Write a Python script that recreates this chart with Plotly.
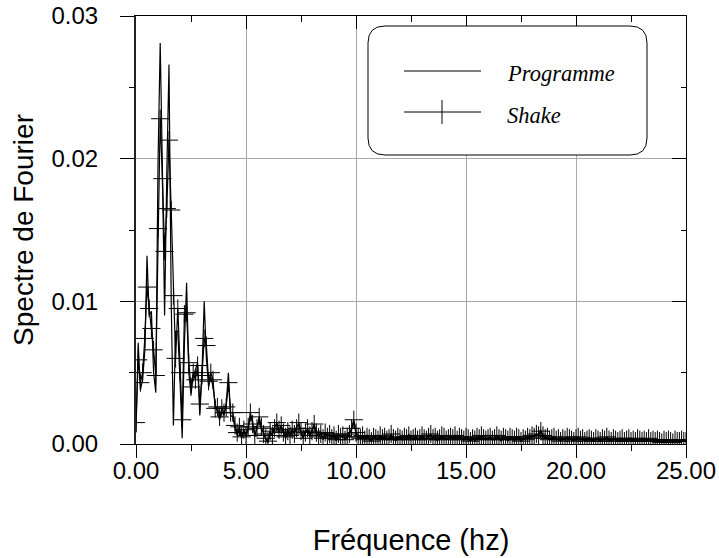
import plotly.graph_objects as go

# Fourier spectrum values, frequency step 0.1 Hz (0 .. 25 Hz)
programme = [
    0.0008, 0.0071, 0.0038, 0.0045, 0.0065, 0.0132, 0.0090, 0.0093, 0.0050, 0.0036,
    0.0196, 0.0281, 0.0193, 0.0090, 0.0190, 0.0266, 0.0100, 0.0013, 0.0079, 0.0079,
    0.0045, 0.0004, 0.0070, 0.0113, 0.0050, 0.0035, 0.0047, 0.0052, 0.0057, 0.0020,
    0.0050, 0.0100, 0.0060, 0.0040, 0.0047, 0.0040, 0.0028, 0.0022, 0.0017, 0.0023,
    0.0020, 0.0028, 0.0050, 0.0020, 0.0019, 0.0011, 0.0006, 0.0010, 0.0004, 0.0009,
    0.0005,
    0.0010, 0.0020, 0.0016, 0.0005, 0.0012, 0.0017, 0.0010, 0.0008, 0.0003, 0.0001,
    0.0008, 0.0007, 0.0012, 0.0014, 0.0008, 0.0012, 0.0009, 0.0004, 0.0010, 0.0005,
    0.0009, 0.0008, 0.0012, 0.0014, 0.0008, 0.0005, 0.0009, 0.0010, 0.0005, 0.0010,
    0.0013, 0.0007, 0.0006, 0.0008, 0.0003, 0.0007, 0.0006, 0.0006, 0.0005, 0.0007,
    0.0002, 0.0006, 0.0006, 0.0005, 0.0004, 0.0004, 0.0008, 0.0010, 0.0016, 0.0007,
    0.0004, 0.0005, 0.0005, 0.0004, 0.0006, 0.0003, 0.0003, 0.0006, 0.0003, 0.0004,
    0.0005, 0.0003, 0.0006, 0.0004, 0.0003, 0.0006, 0.0005, 0.0002, 0.0004, 0.0005,
    0.0004, 0.0004, 0.0003, 0.0007, 0.0004, 0.0003, 0.0006, 0.0004, 0.0003, 0.0005,
    0.0003, 0.0004, 0.0006, 0.0006, 0.0005, 0.0004, 0.0002, 0.0005, 0.0005, 0.0004,
    0.0004, 0.0003, 0.0006, 0.0003, 0.0005, 0.0004, 0.0004, 0.0003, 0.0004, 0.0004,
    0.0003, 0.0003, 0.0005, 0.0002, 0.0004, 0.0005, 0.0005, 0.0003, 0.0004, 0.0003,
    0.0004, 0.0004, 0.0003, 0.0005, 0.0005, 0.0002, 0.0004, 0.0005, 0.0002, 0.0004,
    0.0005, 0.0002, 0.0004, 0.0005, 0.0003, 0.0003, 0.0004, 0.0004, 0.0005, 0.0005,
    0.0006, 0.0006, 0.0007, 0.0010, 0.0005, 0.0005, 0.0004, 0.0004, 0.0003, 0.0004,
    0.0004, 0.0003, 0.0003, 0.0003, 0.0004, 0.0004, 0.0003, 0.0004, 0.0003, 0.0003,
    0.0004, 0.0004, 0.0003, 0.0003, 0.0002, 0.0005, 0.0002, 0.0003, 0.0003, 0.0004,
    0.0003, 0.0003, 0.0004, 0.0004, 0.0002, 0.0003, 0.0003, 0.0004, 0.0003, 0.0002,
    0.0003, 0.0003, 0.0002, 0.0003, 0.0003, 0.0002, 0.0003, 0.0003, 0.0002, 0.0003,
    0.0002, 0.0003, 0.0003, 0.0003, 0.0002, 0.0003, 0.0002, 0.0003, 0.0002, 0.0002,
    0.0003, 0.0002, 0.0003, 0.0002, 0.0002, 0.0003, 0.0001, 0.0002, 0.0003, 0.0002,
]

shake = [
    0.0015, 0.0059, 0.0043, 0.0050, 0.0074, 0.0110, 0.0095, 0.0081, 0.0066, 0.0048,
    0.0151, 0.0228, 0.0186, 0.0135, 0.0165, 0.0213, 0.0164, 0.0104, 0.0060, 0.0095,
    0.0050, 0.0017, 0.0091, 0.0092, 0.0057, 0.0040, 0.0050, 0.0045, 0.0055, 0.0028,
    0.0048, 0.0074, 0.0069, 0.0044, 0.0050, 0.0045, 0.0025, 0.0026, 0.0019, 0.0025,
    0.0022, 0.0026, 0.0043, 0.0022, 0.0022, 0.0013, 0.0008, 0.0012, 0.0005, 0.0010,
    0.0006,
    0.0012, 0.0022, 0.0014, 0.0006, 0.0011, 0.0019, 0.0012, 0.0007, 0.0004, 0.0002,
    0.0009, 0.0006, 0.0011, 0.0015, 0.0010, 0.0013, 0.0008, 0.0005, 0.0009, 0.0006,
    0.0010, 0.0007, 0.0011, 0.0015, 0.0009, 0.0004, 0.0008, 0.0011, 0.0006, 0.0009,
    0.0014, 0.0008, 0.0005, 0.0007, 0.0004, 0.0008, 0.0005, 0.0007, 0.0004, 0.0006,
    0.0003, 0.0007, 0.0005, 0.0006, 0.0003, 0.0005, 0.0007, 0.0011, 0.0017, 0.0008,
    0.0005, 0.0004, 0.0006, 0.0003, 0.0005, 0.0004, 0.0002, 0.0005, 0.0004, 0.0003,
    0.0006, 0.0004, 0.0005, 0.0003, 0.0004, 0.0007, 0.0004, 0.0003, 0.0005, 0.0004,
    0.0003, 0.0005, 0.0004, 0.0006, 0.0003, 0.0004, 0.0005, 0.0003, 0.0004, 0.0006,
    0.0004, 0.0003, 0.0005, 0.0007, 0.0004, 0.0005, 0.0003, 0.0004, 0.0006, 0.0005,
    0.0003, 0.0004, 0.0005, 0.0004, 0.0006, 0.0003, 0.0005, 0.0004, 0.0003, 0.0005,
    0.0004, 0.0002, 0.0004, 0.0003, 0.0005, 0.0004, 0.0006, 0.0004, 0.0003, 0.0004,
    0.0005, 0.0003, 0.0004, 0.0006, 0.0004, 0.0003, 0.0005, 0.0004, 0.0003, 0.0005,
    0.0004, 0.0003, 0.0005, 0.0004, 0.0002, 0.0004, 0.0003, 0.0005, 0.0004, 0.0006,
    0.0005, 0.0007, 0.0006, 0.0009, 0.0006, 0.0004, 0.0005, 0.0003, 0.0004, 0.0005,
    0.0003, 0.0004, 0.0002, 0.0004, 0.0003, 0.0005, 0.0004, 0.0003, 0.0002, 0.0004,
    0.0005, 0.0003, 0.0004, 0.0002, 0.0003, 0.0004, 0.0003, 0.0002, 0.0004, 0.0003,
    0.0002, 0.0004, 0.0003, 0.0005, 0.0003, 0.0002, 0.0004, 0.0003, 0.0002, 0.0003,
    0.0004, 0.0002, 0.0003, 0.0004, 0.0002, 0.0003, 0.0002, 0.0004, 0.0003, 0.0002,
    0.0003, 0.0002, 0.0004, 0.0002, 0.0003, 0.0002, 0.0003, 0.0002, 0.0001, 0.0003,
    0.0002, 0.0003, 0.0002, 0.0001, 0.0003, 0.0002, 0.0002, 0.0003, 0.0002, 0.0002,
]

freq = [round(0.1 * i, 1) for i in range(len(shake))]

x_range = [0, 25]
y_range = [0, 0.03]
series_names = ["Programme", "Shake"]
x_title = "Fréquence (hz)"
y_title = "Spectre de Fourier"

# ---- layout geometry (pixels) ----
W, H = 719, 558
ML, MR, MT, MB = 136, 33, 16, 114
PW, PH = W - ML - MR, H - MT - MB


def px(x):
    return (x - ML) / PW


def py(y):
    return (H - MB - y) / PH


SANS = "Liberation Sans, Arial, sans-serif"
SERIF = "Liberation Serif, Times New Roman, serif"

fig = go.Figure()
fig.add_trace(go.Scatter(
    x=freq, y=programme, mode="lines", name=series_names[0],
    line=dict(color="black", width=1.2), showlegend=False,
))
fig.add_trace(go.Scatter(
    x=freq, y=shake, mode="lines+markers", name=series_names[1],
    line=dict(color="black", width=1.2),
    marker=dict(symbol="cross-thin", size=13, color="black",
                line=dict(color="black", width=1)),
    showlegend=False,
))
# carrier for the mirrored (top / right) axes
fig.add_trace(go.Scatter(x=[None], y=[None], xaxis="x2", yaxis="y2",
                         showlegend=False, hoverinfo="skip"))

tickfont = dict(family=SANS, size=24, color="black")

fig.update_layout(
    width=W, height=H,
    margin=dict(l=ML, r=MR, t=MT, b=MB, autoexpand=False),
    paper_bgcolor="white", plot_bgcolor="white",
    showlegend=False,
    xaxis=dict(
        range=x_range, tick0=0, dtick=5, tickformat=".2f",
        ticks="outside", ticklen=13, tickwidth=1, tickcolor="black",
        showline=True, linecolor="black", linewidth=1,
        showgrid=True, gridcolor="#a8a8a8", gridwidth=1, zeroline=False,
        minor=dict(dtick=2.5, tick0=0, ticks="outside", ticklen=6,
                   tickcolor="black", showgrid=False),
        tickfont=tickfont, ticklabelstandoff=-8,
        title=dict(text=x_title, font=dict(family=SANS, size=29, color="black"),
                   standoff=46),
        automargin=False,
    ),
    yaxis=dict(
        range=y_range, tick0=0, dtick=0.01, tickformat=".2f",
        ticks="outside", ticklen=14, tickwidth=1, tickcolor="black",
        showline=True, linecolor="#222222", linewidth=2,
        showgrid=True, gridcolor="#a8a8a8", gridwidth=1, zeroline=False,
        minor=dict(dtick=0.005, tick0=0, ticks="outside", ticklen=5,
                   tickcolor="black", showgrid=False),
        tickfont=tickfont, ticklabelstandoff=17,
        title=dict(text=y_title, font=dict(family=SANS, size=28, color="black"),
                   standoff=10),
        automargin=False,
    ),
    xaxis2=dict(
        overlaying="x", side="top", anchor="y", range=x_range,
        tick0=0, dtick=5, ticks="inside", ticklen=13, tickcolor="black",
        minor=dict(dtick=2.5, tick0=0, ticks="inside", ticklen=6,
                   tickcolor="black", showgrid=False),
        showticklabels=False, showline=True, linecolor="black", linewidth=1,
        showgrid=False, zeroline=False,
    ),
    yaxis2=dict(
        overlaying="y", side="right", anchor="x", range=y_range,
        tick0=0, dtick=0.01, ticks="inside", ticklen=14, tickcolor="black",
        minor=dict(dtick=0.005, tick0=0, ticks="inside", ticklen=5,
                   tickcolor="black", showgrid=False),
        showticklabels=False, showline=True, linecolor="black", linewidth=1,
        showgrid=False, zeroline=False,
    ),
)

# ---- hand-drawn legend with rounded frame ----
def rounded_rect(x0, y0, x1, y1, r):
    pts = [
        f"M {px(x0 + r)},{py(y0)}",
        f"L {px(x1 - r)},{py(y0)}",
        f"Q {px(x1)},{py(y0)} {px(x1)},{py(y0 + r)}",
        f"L {px(x1)},{py(y1 - r)}",
        f"Q {px(x1)},{py(y1)} {px(x1 - r)},{py(y1)}",
        f"L {px(x0 + r)},{py(y1)}",
        f"Q {px(x0)},{py(y1)} {px(x0)},{py(y1 - r)}",
        f"L {px(x0)},{py(y0 + r)}",
        f"Q {px(x0)},{py(y0)} {px(x0 + r)},{py(y0)}",
        "Z",
    ]
    return " ".join(pts)


shapes = [
    dict(type="path", xref="paper", yref="paper",
         path=rounded_rect(368, 26, 647, 155, 17),
         line=dict(color="black", width=1), fillcolor="white", layer="above"),
    dict(type="line", xref="paper", yref="paper",
         x0=px(404), x1=px(481), y0=py(71), y1=py(71),
         line=dict(color="black", width=1), layer="above"),
    dict(type="line", xref="paper", yref="paper",
         x0=px(404), x1=px(481), y0=py(112), y1=py(112),
         line=dict(color="black", width=1), layer="above"),
    dict(type="line", xref="paper", yref="paper",
         x0=px(442), x1=px(442), y0=py(100), y1=py(124),
         line=dict(color="black", width=1), layer="above"),
]
fig.update_layout(shapes=shapes)

legend_font = dict(family=SERIF, size=22.5, color="black")
for name, ypix in zip(series_names, [73, 115]):
    fig.add_annotation(
        xref="paper", yref="paper", x=px(505), y=py(ypix),
        xanchor="left", yanchor="middle", showarrow=False,
        text=f"<i>{name}</i>", font=legend_font,
    )

fig.write_html("out.html")
